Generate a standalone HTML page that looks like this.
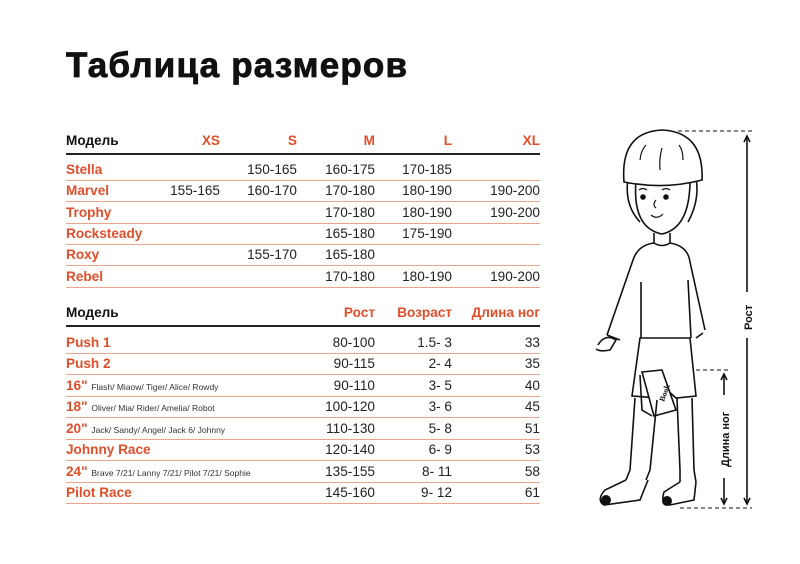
<!DOCTYPE html>
<html><head><meta charset="utf-8"><style>
body{margin:0;width:800px;height:564px;background:#fff;position:relative;overflow:hidden;font-family:"Liberation Sans","DejaVu Sans",sans-serif}
h1{position:absolute;left:66px;top:46px;margin:0;font-size:35px;font-weight:900;color:#111;letter-spacing:1.2px;-webkit-text-stroke:0.8px #111}
.row{position:absolute;left:66px;width:474px;height:21px;font-size:13.6px;color:#222}
.row span{position:absolute;top:2px;white-space:nowrap}
.n{color:#e04e2a;font-weight:bold}
.o{color:#e04e2a;font-weight:bold}
.hd{font-weight:bold;color:#111}
.ln{position:absolute;left:66px;width:474px;height:1px;background:#eaa58f}
.bl{position:absolute;left:66px;width:474px;height:2px;background:#222}
small{font-size:8.5px;font-weight:normal;color:#333}
</style></head><body>
<h1>Таблица размеров</h1>

<div class="row" style="top:131px"><span class="hd" style="left:0">Модель</span>
<span class="o" style="right:320px">XS</span><span class="o" style="right:243px">S</span><span class="o" style="right:165px">M</span><span class="o" style="right:88px">L</span><span class="o" style="right:0">XL</span></div>
<div class="bl" style="top:153px"></div>

<div class="row" style="top:160px"><span class="n" style="left:0">Stella</span><span style="right:243px">150-165</span><span style="right:165px">160-175</span><span style="right:88px">170-185</span></div>
<div class="ln" style="top:180px"></div>
<div class="row" style="top:181px"><span class="n" style="left:0">Marvel</span><span style="right:320px">155-165</span><span style="right:243px">160-170</span><span style="right:165px">170-180</span><span style="right:88px">180-190</span><span style="right:0">190-200</span></div>
<div class="ln" style="top:201px"></div>
<div class="row" style="top:203px"><span class="n" style="left:0">Trophy</span><span style="right:165px">170-180</span><span style="right:88px">180-190</span><span style="right:0">190-200</span></div>
<div class="ln" style="top:223px"></div>
<div class="row" style="top:224px"><span class="n" style="left:0">Rocksteady</span><span style="right:165px">165-180</span><span style="right:88px">175-190</span></div>
<div class="ln" style="top:244px"></div>
<div class="row" style="top:245px"><span class="n" style="left:0">Roxy</span><span style="right:243px">155-170</span><span style="right:165px">165-180</span></div>
<div class="ln" style="top:265px"></div>
<div class="row" style="top:267px"><span class="n" style="left:0">Rebel</span><span style="right:165px">170-180</span><span style="right:88px">180-190</span><span style="right:0">190-200</span></div>
<div class="ln" style="top:287px"></div>

<div class="row" style="top:303px"><span class="hd" style="left:0">Модель</span>
<span class="o" style="right:165px">Рост</span><span class="o" style="right:88px">Возраст</span><span class="o" style="right:0">Длина ног</span></div>
<div class="bl" style="top:325px"></div>

<div class="row" style="top:333px"><span class="n" style="left:0">Push 1</span><span style="right:165px">80-100</span><span style="right:88px">1.5- 3</span><span style="right:0">33</span></div>
<div class="ln" style="top:353px"></div>
<div class="row" style="top:354px"><span class="n" style="left:0">Push 2</span><span style="right:165px">90-115</span><span style="right:88px">2- 4</span><span style="right:0">35</span></div>
<div class="ln" style="top:374px"></div>
<div class="row" style="top:376px"><span class="n" style="left:0">16" <small>Flash/ Miaow/ Tiger/ Alice/ Rowdy</small></span><span style="right:165px">90-110</span><span style="right:88px">3- 5</span><span style="right:0">40</span></div>
<div class="ln" style="top:396px"></div>
<div class="row" style="top:397px"><span class="n" style="left:0">18" <small>Oliver/ Mia/ Rider/ Amelia/ Robot</small></span><span style="right:165px">100-120</span><span style="right:88px">3- 6</span><span style="right:0">45</span></div>
<div class="ln" style="top:417px"></div>
<div class="row" style="top:419px"><span class="n" style="left:0">20" <small>Jack/ Sandy/ Angel/ Jack 6/ Johnny</small></span><span style="right:165px">110-130</span><span style="right:88px">5- 8</span><span style="right:0">51</span></div>
<div class="ln" style="top:439px"></div>
<div class="row" style="top:440px"><span class="n" style="left:0">Johnny Race</span><span style="right:165px">120-140</span><span style="right:88px">6- 9</span><span style="right:0">53</span></div>
<div class="ln" style="top:460px"></div>
<div class="row" style="top:462px"><span class="n" style="left:0">24" <small>Brave 7/21/ Lanny 7/21/ Pilot 7/21/ Sophie</small></span><span style="right:165px">135-155</span><span style="right:88px">8- 11</span><span style="right:0">58</span></div>
<div class="ln" style="top:482px"></div>
<div class="row" style="top:483px"><span class="n" style="left:0">Pilot Race</span><span style="right:165px">145-160</span><span style="right:88px">9- 12</span><span style="right:0">61</span></div>
<div class="ln" style="top:503px"></div>

<svg style="position:absolute;left:0;top:0" width="800" height="564" fill="none" stroke="#111" stroke-width="1.6">
<g stroke-dasharray="4,3" stroke-width="1"><line x1="678" y1="131" x2="752" y2="131"/><line x1="668" y1="370" x2="729" y2="370"/><line x1="680" y1="508" x2="752" y2="508"/></g>
<line x1="747" y1="136" x2="747" y2="292"/><line x1="747" y1="338" x2="747" y2="504"/>
<path d="M744,142 L747,136 L750,142 M744,498 L747,504 L750,498" />
<line x1="724" y1="374" x2="724" y2="395"/><line x1="724" y1="478" x2="724" y2="504"/>
<path d="M721,380 L724,374 L727,380 M721,498 L724,504 L727,498"/>
<path d="M628,178 Q624,205 640,222 M696,178 Q700,200 688,222"/>
<path d="M636,180 Q632,228 662,234 Q690,228 690,180"/>
<path d="M624,182 Q620,132 662,130 Q704,132 702,180 Q664,190 624,182 Z" fill="#fff"/>
<path d="M640,160 Q641,150 646,145 M660,170 Q659,158 662,148 M683,160 Q683,150 679,145" stroke-width="1.2"/>
<circle cx="643" cy="197" r="2" fill="#111"/><circle cx="666" cy="197" r="2" fill="#111"/>
<path d="M639,190 Q643,187 647,190 M662,190 Q666,187 670,190 M656,200 Q652,205 656,208 M651,215 Q657,220 663,214" stroke-width="1.2"/>
<path d="M654,233 L654,243 Q662,248 670,243 L670,233"/>
<path d="M654,243 Q638,245 633,260 L607,335 M670,243 Q688,246 690,262 L705,330"/>
<path d="M641,282 L641,338 M688,280 L691,338"/>
<path d="M607,335 L620,340 M696,338 L703,333"/>
<path d="M598,345 Q605,333 616,340 L610,350 Q600,352 596,349"/>
<path d="M663,349 Q674,340 685,344 L680,358 Q670,358 664,352"/>
<path d="M640,338 L690,338 L696,396 L676,398 L667,390 L658,398 L632,396 Z" fill="#fff"/>
<path d="M642,372 L662,370 L676,410 L654,416 Z" fill="#fff"/>
<path d="M640,375 L642,410 L652,416"/>
<text x="0" y="0" transform="translate(664,402) rotate(-70)" font-family="Liberation Serif,serif" font-size="8" fill="#111" stroke="none" font-weight="bold">Book</text>
<path d="M635,398 L630,470 L626,480 M657,400 L650,470 L646,480 M677,398 L680,470 L680,482 M692,398 L694,470 L696,482"/>
<path d="M626,480 L605,490 Q596,500 604,505 L640,500 L648,480 M680,482 L664,492 Q660,504 670,505 L694,500 L696,482"/>
<circle cx="606" cy="500" r="5" fill="#111" stroke="none"/><circle cx="667" cy="501" r="5" fill="#111" stroke="none"/>
<text x="0" y="0" transform="translate(752,330) rotate(-90)" font-size="11" font-weight="bold" fill="#111" stroke="none">Рост</text>
<text x="0" y="0" transform="translate(729,467) rotate(-90)" font-size="11" font-weight="bold" fill="#111" stroke="none">Длина ног</text>
</svg>
</body></html>
